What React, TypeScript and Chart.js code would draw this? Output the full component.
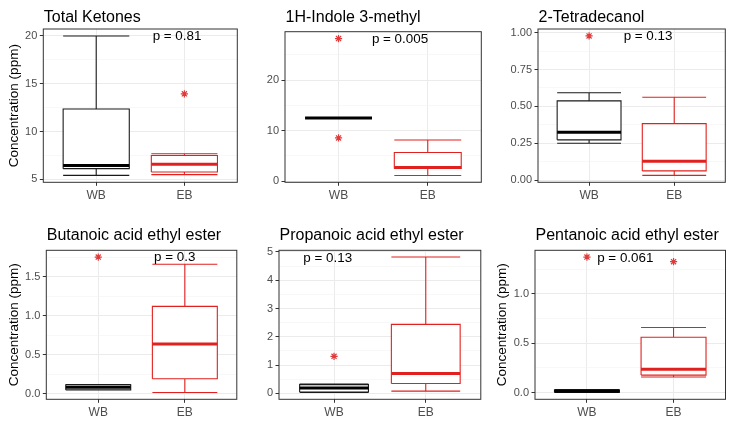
import React, { useEffect, useRef } from "react";
import { Chart, registerables } from "chart.js";
Chart.register(...registerables);

const groups = ["WB", "EB"];
const titles = [
  "Total Ketones",
  "1H-Indole 3-methyl",
  "2-Tetradecanol",
  "Butanoic acid ethyl ester",
  "Propanoic acid ethyl ester",
  "Pentanoic acid ethyl ester",
];
const pValues = ["p = 0.81", "p = 0.005", "p = 0.13", "p = 0.3", "p = 0.13", "p = 0.061"];

// five-number summaries: [lower whisker, Q1, median, Q3, upper whisker]
const ketonesWB = [5.43, 6.13, 6.45, 12.37, 20.0];
const ketonesEB = [5.5, 5.78, 6.59, 7.5, 7.68];
const ketonesOutWB: number[] = [];
const ketonesOutEB = [13.95];

const indoleWB = [12.5, 12.5, 12.5, 12.5, 12.5];
const indoleEB = [1.13, 2.5, 2.7, 5.67, 8.13];
const indoleOutWB = [28.2, 8.55];
const indoleOutEB: number[] = [];

const tetraWB = [0.251, 0.274, 0.326, 0.538, 0.593];
const tetraEB = [0.034, 0.064, 0.13, 0.384, 0.562];
const tetraOutWB = [0.977];
const tetraOutEB: number[] = [];

const butanoicWB = [0.045, 0.047, 0.08, 0.113, 0.115];
const butanoicEB = [0.013, 0.191, 0.638, 1.122, 1.663];
const butanoicOutWB = [1.756];
const butanoicOutEB: number[] = [];

const propanoicWB = [0.03, 0.05, 0.19, 0.31, 0.33];
const propanoicEB = [0.08, 0.35, 0.7, 2.44, 4.82];
const propanoicOutWB = [1.31];
const propanoicOutEB: number[] = [];

const pentanoicWB = [0.0, 0.003, 0.013, 0.025, 0.03];
const pentanoicEB = [0.157, 0.177, 0.237, 0.56, 0.66];
const pentanoicOutWB = [1.374];
const pentanoicOutEB = [1.327];

// y-axis tick values and labels
const ketonesTicks = [5, 10, 15, 20];
const ketonesTickLabels = ["5", "10", "15", "20"];
const indoleTicks = [0, 10, 20];
const indoleTickLabels = ["0", "10", "20"];
const tetraTicks = [0, 0.25, 0.5, 0.75, 1.0];
const tetraTickLabels = ["0.00", "0.25", "0.50", "0.75", "1.00"];
const butanoicTicks = [0, 0.5, 1.0, 1.5];
const butanoicTickLabels = ["0.0", "0.5", "1.0", "1.5"];
const propanoicTicks = [0, 1, 2, 3, 4, 5];
const propanoicTickLabels = ["0", "1", "2", "3", "4", "5"];
const pentanoicTicks = [0, 0.5, 1.0];
const pentanoicTickLabels = ["0.0", "0.5", "1.0"];

// p-value label anchors (data units, left-aligned)
const pLabelX = [1.64, 1.374, 1.406, 1.645, 0.665, 1.118];
const pLabelY = [20, 28, 0.977, 1.747, 4.78, 1.36];

const showYTitle = [true, false, false, true, false, true];

const panelStats = [
  [ketonesWB, ketonesEB],
  [indoleWB, indoleEB],
  [tetraWB, tetraEB],
  [butanoicWB, butanoicEB],
  [propanoicWB, propanoicEB],
  [pentanoicWB, pentanoicEB],
];
const panelOutliers = [
  [ketonesOutWB, ketonesOutEB],
  [indoleOutWB, indoleOutEB],
  [tetraOutWB, tetraOutEB],
  [butanoicOutWB, butanoicOutEB],
  [propanoicOutWB, propanoicOutEB],
  [pentanoicOutWB, pentanoicOutEB],
];
const panelTicks = [ketonesTicks, indoleTicks, tetraTicks, butanoicTicks, propanoicTicks, pentanoicTicks];
const panelTickLabels = [
  ketonesTickLabels,
  indoleTickLabels,
  tetraTickLabels,
  butanoicTickLabels,
  propanoicTickLabels,
  pentanoicTickLabels,
];

// layout (pixels): cell x, y, w, h; plot left, right, top, bottom (cell-relative); title baseline
const LAYOUT = [
  { cx: 0, cy: 0, w: 244, h: 212, l: 43.3, r: 237.3, t: 29, b: 182.3, tb: 21.7 },
  { cx: 244, cy: 0, w: 244, h: 212, l: 41, r: 237.3, t: 31.7, b: 182.3, tb: 22.3 },
  { cx: 488, cy: 0, w: 244, h: 212, l: 50, r: 237.3, t: 29, b: 182.3, tb: 21.7 },
  { cx: 0, cy: 212, w: 244, h: 211, l: 46.3, r: 236.8, t: 38.3, b: 187.3, tb: 28.3 },
  { cx: 244, cy: 212, w: 244, h: 211, l: 35, r: 236.8, t: 38.3, b: 187.3, tb: 28.3 },
  { cx: 488, cy: 212, w: 244, h: 211, l: 47, r: 237.5, t: 38.3, b: 187.3, tb: 28.3 },
];

const FONT = "'Liberation Sans', Arial, Helvetica, sans-serif";
const GROUP_COLORS = ["#1a1a1a", "#e0211f"];
const OUTLIER_COLOR = "#e03a3a";
const HALF = 0.375;

function boxFrame(c: number, s: number[]) {
  const [lo, q1, , q3, hi] = s;
  return [
    { x: c - HALF, y: lo }, { x: c + HALF, y: lo }, { x: c, y: null },
    { x: c, y: lo }, { x: c, y: q1 }, { x: c, y: null },
    { x: c, y: q3 }, { x: c, y: hi }, { x: c, y: null },
    { x: c - HALF, y: hi }, { x: c + HALF, y: hi }, { x: c, y: null },
    { x: c - HALF, y: q1 }, { x: c + HALF, y: q1 }, { x: c + HALF, y: q3 }, { x: c - HALF, y: q3 }, { x: c - HALF, y: q1 },
  ];
}

function Panel({ idx }: { idx: number }) {
  const ref = useRef<HTMLCanvasElement | null>(null);
  const L = LAYOUT[idx];

  useEffect(() => {
    const canvas = ref.current;
    if (!canvas) return;
    const stats = panelStats[idx];
    const outs = panelOutliers[idx];
    const ticks = panelTicks[idx];
    const tickLabels = panelTickLabels[idx];

    const allVals: number[] = [];
    stats.forEach((s) => allVals.push(...s));
    outs.forEach((o) => allVals.push(...o));
    const dMin = Math.min(...allVals);
    const dMax = Math.max(...allVals);
    const span = dMax - dMin;
    const yMin = dMin - 0.05 * span;
    const yMax = dMax + 0.05 * span;

    const step = ticks[1] - ticks[0];
    const minor: number[] = [];
    for (let i = -1; i < ticks.length; i++) {
      const v = ticks[0] + (i + 0.5) * step;
      if (v > yMin && v < yMax) minor.push(v);
    }
    const allTicks = [...ticks, ...minor].sort((a, b) => a - b);
    const isMinor = (v: any) => typeof v === "number" && minor.some((m) => Math.abs(m - v) < 1e-9);

    const datasets: any[] = [];
    stats.forEach((s, g) => {
      const c = g + 1;
      const col = GROUP_COLORS[g];
      datasets.push({
        data: [{ x: c - HALF, y: s[3] }, { x: c + HALF, y: s[3] }],
        fill: { value: s[1] },
        backgroundColor: "#ffffff",
        borderColor: "rgba(0,0,0,0)",
        borderWidth: 1,
        pointRadius: 0,
        order: 10,
      });
      datasets.push({
        data: boxFrame(c, s),
        borderColor: col,
        borderWidth: 1.1,
        pointRadius: 0,
        spanGaps: false,
        fill: false,
        borderJoinStyle: "miter",
        borderCapStyle: "butt",
        order: 3,
      });
      datasets.push({
        data: [{ x: c - HALF, y: s[2] }, { x: c + HALF, y: s[2] }],
        borderColor: g === 0 ? "#000000" : col,
        borderWidth: 3,
        pointRadius: 0,
        fill: false,
        borderCapStyle: "butt",
        order: 2,
      });
      datasets.push({
        data: outs[g].map((v) => ({ x: c, y: v })),
        showLine: false,
        pointStyle: "star",
        pointRadius: 3.6,
        pointBorderColor: OUTLIER_COLOR,
        pointBackgroundColor: OUTLIER_COLOR,
        pointBorderWidth: 1.2,
        fill: false,
        order: 1,
      });
    });

    const decor = {
      id: "decor",
      afterDraw(chart: any) {
        const { ctx, chartArea } = chart;
        ctx.save();
        ctx.strokeStyle = "#333333";
        ctx.lineWidth = 1;
        ctx.strokeRect(chartArea.left, chartArea.top, chartArea.right - chartArea.left, chartArea.bottom - chartArea.top);
        ctx.fillStyle = "#000000";
        ctx.font = `16px ${FONT}`;
        ctx.textAlign = "left";
        ctx.textBaseline = "alphabetic";
        ctx.fillText(titles[idx], chartArea.left + 0.5, L.tb);
        ctx.font = `13.4px ${FONT}`;
        ctx.textBaseline = "middle";
        const px = chart.scales.x.getPixelForValue(pLabelX[idx]);
        const py = chart.scales.y.getPixelForValue(pLabelY[idx]);
        ctx.fillText(pValues[idx], px, py);
        ctx.restore();
      },
    };

    const chart = new Chart(canvas, {
      type: "line",
      data: { datasets },
      options: {
        animation: false,
        responsive: false,
        maintainAspectRatio: false,
        devicePixelRatio: 1,
        events: [],
        layout: { padding: { left: 0, top: L.t, right: L.w - L.r, bottom: 0 } },
        plugins: { legend: { display: false }, tooltip: { enabled: false }, title: { display: false } },
        scales: {
          x: {
            type: "linear",
            min: 0.4,
            max: 2.6,
            afterBuildTicks: (scale: any) => {
              scale.ticks = groups.map((_, i) => ({ value: i + 1 }));
            },
            afterFit: (scale: any) => {
              scale.height = L.h - L.b;
            },
            ticks: {
              autoSkip: false,
              maxRotation: 0,
              padding: 3,
              color: "#4d4d4d",
              font: { size: 12, family: FONT },
              callback: (v: any) => groups[Math.round(Number(v)) - 1] ?? "",
            },
            grid: {
              color: "#ebebeb",
              lineWidth: 1,
              tickColor: "#333333",
              tickLength: 3.5,
              drawTicks: true,
            },
            border: { display: false },
          },
          y: {
            type: "linear",
            min: yMin,
            max: yMax,
            afterBuildTicks: (scale: any) => {
              scale.ticks = allTicks.map((v) => ({ value: v }));
            },
            afterFit: (scale: any) => {
              scale.width = L.l;
            },
            ticks: {
              autoSkip: false,
              padding: 2.5,
              color: "#4d4d4d",
              font: { size: 11, family: FONT },
              callback: (v: any) => {
                const i = ticks.findIndex((t) => Math.abs(t - Number(v)) < 1e-9);
                return i >= 0 ? tickLabels[i] : "";
              },
            },
            grid: {
              color: (c: any) => (isMinor(c.tick && c.tick.value) ? "#f4f4f4" : "#ebebeb"),
              lineWidth: (c: any) => (isMinor(c.tick && c.tick.value) ? 0.6 : 1),
              tickColor: (c: any) => (isMinor(c.tick && c.tick.value) ? "rgba(0,0,0,0)" : "#333333"),
              tickLength: 3.5,
              drawTicks: true,
            },
            border: { display: false },
            title: {
              display: showYTitle[idx],
              text: "Concentration (ppm)",
              color: "#000000",
              font: { size: 13.5, family: FONT },
              padding: { top: 6, bottom: 0 },
            },
          },
        },
      } as any,
      plugins: [decor],
    });
    return () => chart.destroy();
  }, [idx]);

  return (
    <canvas
      ref={ref}
      width={L.w}
      height={L.h}
      style={{ position: "absolute", left: L.cx, top: L.cy, width: L.w, height: L.h }}
    />
  );
}

export default function App() {
  return (
    <div style={{ position: "absolute", left: 0, top: 0, width: 732, height: 423, background: "#ffffff" }}>
      {titles.map((_, i) => (
        <Panel key={i} idx={i} />
      ))}
    </div>
  );
}
